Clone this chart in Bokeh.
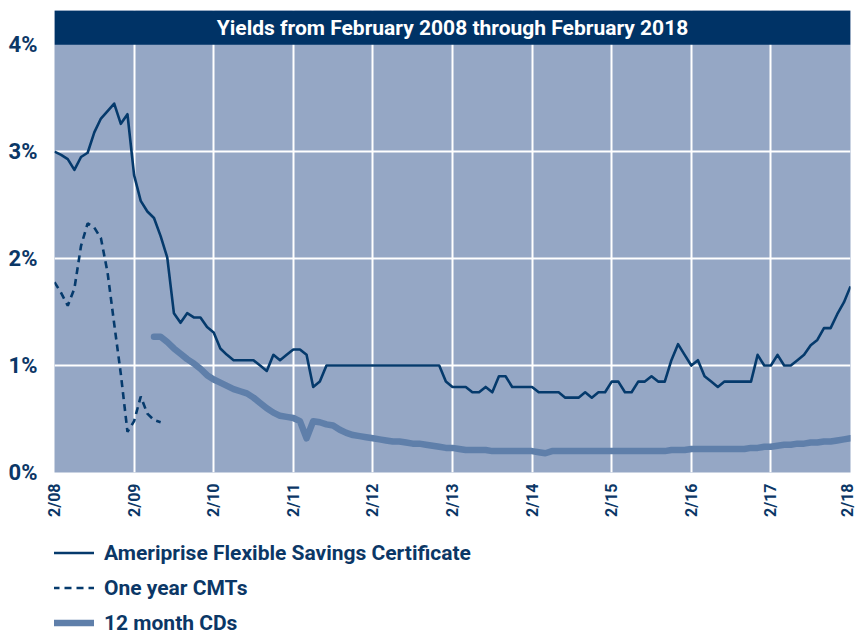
import math
from bokeh.plotting import figure
from bokeh.layouts import column
from bokeh.models import FixedTicker, Legend, LegendItem, BoxAnnotation, Label, Range1d
from bokeh.embed import file_html
from bokeh.resources import INLINE

# ---------------- data (months since February 2008) ----------------
title_text = "Yields from February 2008 through February 2018"
xtick_vals = [0, 12, 24, 36, 48, 60, 72, 84, 96, 108, 120]
xtick_labels = ["2/08", "2/09", "2/10", "2/11", "2/12", "2/13", "2/14", "2/15", "2/16", "2/17", "2/18"]
ytick_vals = [0, 1, 2, 3, 4]
ytick_labels = ["0%", "1%", "2%", "3%", "4%"]

series_names = ["Ameriprise Flexible Savings Certificate", "One year CMTs", "12 month CDs"]

amp_months = list(range(0, 121))
ameriprise = [
    3.00, 2.97, 2.93, 2.83, 2.95, 2.99, 3.18, 3.31, 3.38, 3.45, 3.26, 3.35,
    2.78, 2.54, 2.44, 2.38, 2.21, 2.01, 1.49, 1.40, 1.49, 1.45, 1.45, 1.36,
    1.31, 1.16, 1.10, 1.05, 1.05, 1.05, 1.05, 1.00, 0.95, 1.10, 1.05, 1.10,
    1.15, 1.15, 1.10, 0.80, 0.85, 1.00, 1.00, 1.00, 1.00, 1.00, 1.00, 1.00,
    1.00, 1.00, 1.00, 1.00, 1.00, 1.00, 1.00, 1.00, 1.00, 1.00, 1.00, 0.85,
    0.80, 0.80, 0.80, 0.75, 0.75, 0.80, 0.75, 0.90, 0.90, 0.80, 0.80, 0.80,
    0.80, 0.75, 0.75, 0.75, 0.75, 0.70, 0.70, 0.70, 0.75, 0.70, 0.75, 0.75,
    0.85, 0.85, 0.75, 0.75, 0.85, 0.85, 0.90, 0.85, 0.85, 1.05, 1.20, 1.10,
    1.00, 1.05, 0.90, 0.85, 0.80, 0.85, 0.85, 0.85, 0.85, 0.85, 1.10, 1.00,
    1.00, 1.10, 1.00, 1.00, 1.05, 1.10, 1.19, 1.24, 1.35, 1.35, 1.48, 1.59,
    1.74,
]

cmt_months = list(range(0, 17))
cmt = [1.78, 1.68, 1.56, 1.72, 2.12, 2.33, 2.29, 2.19, 1.87, 1.39, 0.92, 0.38,
       0.48, 0.71, 0.55, 0.49, 0.47]

cd_months = list(range(15, 121))
cds = [
    1.27, 1.27, 1.22, 1.16, 1.11, 1.06, 1.02, 0.97, 0.91, 0.87, 0.84, 0.81,
    0.78, 0.76, 0.74, 0.70, 0.65, 0.60, 0.56, 0.53, 0.52, 0.51, 0.48, 0.32,
    0.48, 0.47, 0.45, 0.44, 0.40, 0.37, 0.35, 0.34, 0.33, 0.32, 0.31, 0.30,
    0.29, 0.29, 0.28, 0.27, 0.27, 0.26, 0.25, 0.24, 0.23, 0.23, 0.22, 0.21,
    0.21, 0.21, 0.21, 0.20, 0.20, 0.20, 0.20, 0.20, 0.20, 0.20, 0.19, 0.18,
    0.20, 0.20, 0.20, 0.20, 0.20, 0.20, 0.20, 0.20, 0.20, 0.20, 0.20, 0.20,
    0.20, 0.20, 0.20, 0.20, 0.20, 0.20, 0.21, 0.21, 0.21, 0.22, 0.22, 0.22,
    0.22, 0.22, 0.22, 0.22, 0.22, 0.22, 0.23, 0.23, 0.24, 0.24, 0.25, 0.26,
    0.26, 0.27, 0.27, 0.28, 0.28, 0.29, 0.29, 0.30, 0.31, 0.32,
]

# ---------------- style ----------------
FONT = "Roboto"
NAVY = "#0b3766"
BAR = "#003366"
LINE = "#053a6c"
CDCOL = "#5f7faa"
BG = "#95a7c5"

Y_TOP = 4.32  # extra band above 4% holds the title bar

p = figure(width=856, height=530, output_backend="svg", toolbar_location=None,
           x_range=Range1d(xtick_vals[0], xtick_vals[-1]),
           y_range=Range1d(0, Y_TOP), title=None)
p.min_border_left = 54
p.min_border_right = 6
p.min_border_top = 10
p.min_border_bottom = 58
p.background_fill_color = BG
p.border_fill_color = "white"
p.outline_line_color = None

# axes
p.xaxis.ticker = FixedTicker(ticks=xtick_vals)
p.xaxis.major_label_overrides = {v: l for v, l in zip(xtick_vals, xtick_labels)}
p.xaxis.major_label_orientation = math.pi / 2
p.xaxis.major_label_standoff = 11
p.yaxis.ticker = FixedTicker(ticks=ytick_vals)
p.yaxis.major_label_overrides = {v: l for v, l in zip(ytick_vals, ytick_labels)}
p.yaxis.major_label_standoff = 17
for ax in (p.xaxis, p.yaxis):
    ax.axis_line_color = None
    ax.major_tick_line_color = None
    ax.minor_tick_line_color = None
    ax.major_tick_in = 0
    ax.major_tick_out = 0
    ax.major_label_text_font = FONT
    ax.major_label_text_font_style = "bold"
    ax.major_label_text_color = NAVY
p.xaxis.major_label_text_font_size = "16px"
p.yaxis.major_label_text_font_size = "22px"

# grid
p.xgrid.ticker = FixedTicker(ticks=xtick_vals[1:-1])
p.ygrid.ticker = FixedTicker(ticks=ytick_vals[1:-1])
for g in (p.xgrid, p.ygrid):
    g.grid_line_color = "white"
    g.grid_line_width = 2
    g.grid_line_alpha = 1.0

AMP_STYLE = dict(line_color=LINE, line_width=2.6, line_join="round")
CMT_STYLE = dict(line_color=LINE, line_width=2.6, line_dash="7 5")
CD_STYLE = dict(line_color=CDCOL, line_width=6.5, line_cap="round", line_join="round")

# lines
p.line(amp_months, ameriprise, **AMP_STYLE)
p.line(cmt_months, cmt, **CMT_STYLE)
p.line(cd_months, cds, **CD_STYLE)

# title bar
p.add_layout(BoxAnnotation(bottom=ytick_vals[-1], fill_color=BAR, fill_alpha=1.0, line_color=None))
p.add_layout(Label(x=(xtick_vals[0] + xtick_vals[-1]) / 2, y=(ytick_vals[-1] + Y_TOP) / 2,
                   text=title_text, text_align="center", text_baseline="middle",
                   text_color="white", text_font=FONT, text_font_style="bold",
                   text_font_size="21px"))

# ---------------- legend strip below the chart ----------------
# Same series drawn again, but with a y-range that keeps them out of view,
# so that only the legend of this strip is seen.
lg = figure(width=856, height=105, output_backend="svg", toolbar_location=None,
            x_range=Range1d(xtick_vals[0], xtick_vals[-1]), y_range=Range1d(10, 11),
            title=None, x_axis_type=None, y_axis_type=None)
lg.min_border = 0
lg.outline_line_color = None
lg.background_fill_color = "white"
lg.border_fill_color = "white"

k_amp = lg.line(amp_months, ameriprise, **AMP_STYLE)
k_cmt = lg.line(cmt_months, cmt, **CMT_STYLE)
k_cd = lg.line(cd_months, cds, **CD_STYLE)

legend = Legend(items=[LegendItem(label=series_names[0], renderers=[k_amp]),
                       LegendItem(label=series_names[1], renderers=[k_cmt]),
                       LegendItem(label=series_names[2], renderers=[k_cd])],
                location=(-2, 0), orientation="vertical",
                glyph_width=42, glyph_height=25, label_height=25, label_standoff=10,
                spacing=10, padding=0, margin=0,
                border_line_color=None, background_fill_alpha=0,
                label_text_font=FONT, label_text_font_style="bold",
                label_text_font_size="21px", label_text_color=NAVY)
lg.add_layout(legend)

layout = column(p, lg, spacing=0)
open("out.html", "w").write(file_html(layout, INLINE))
